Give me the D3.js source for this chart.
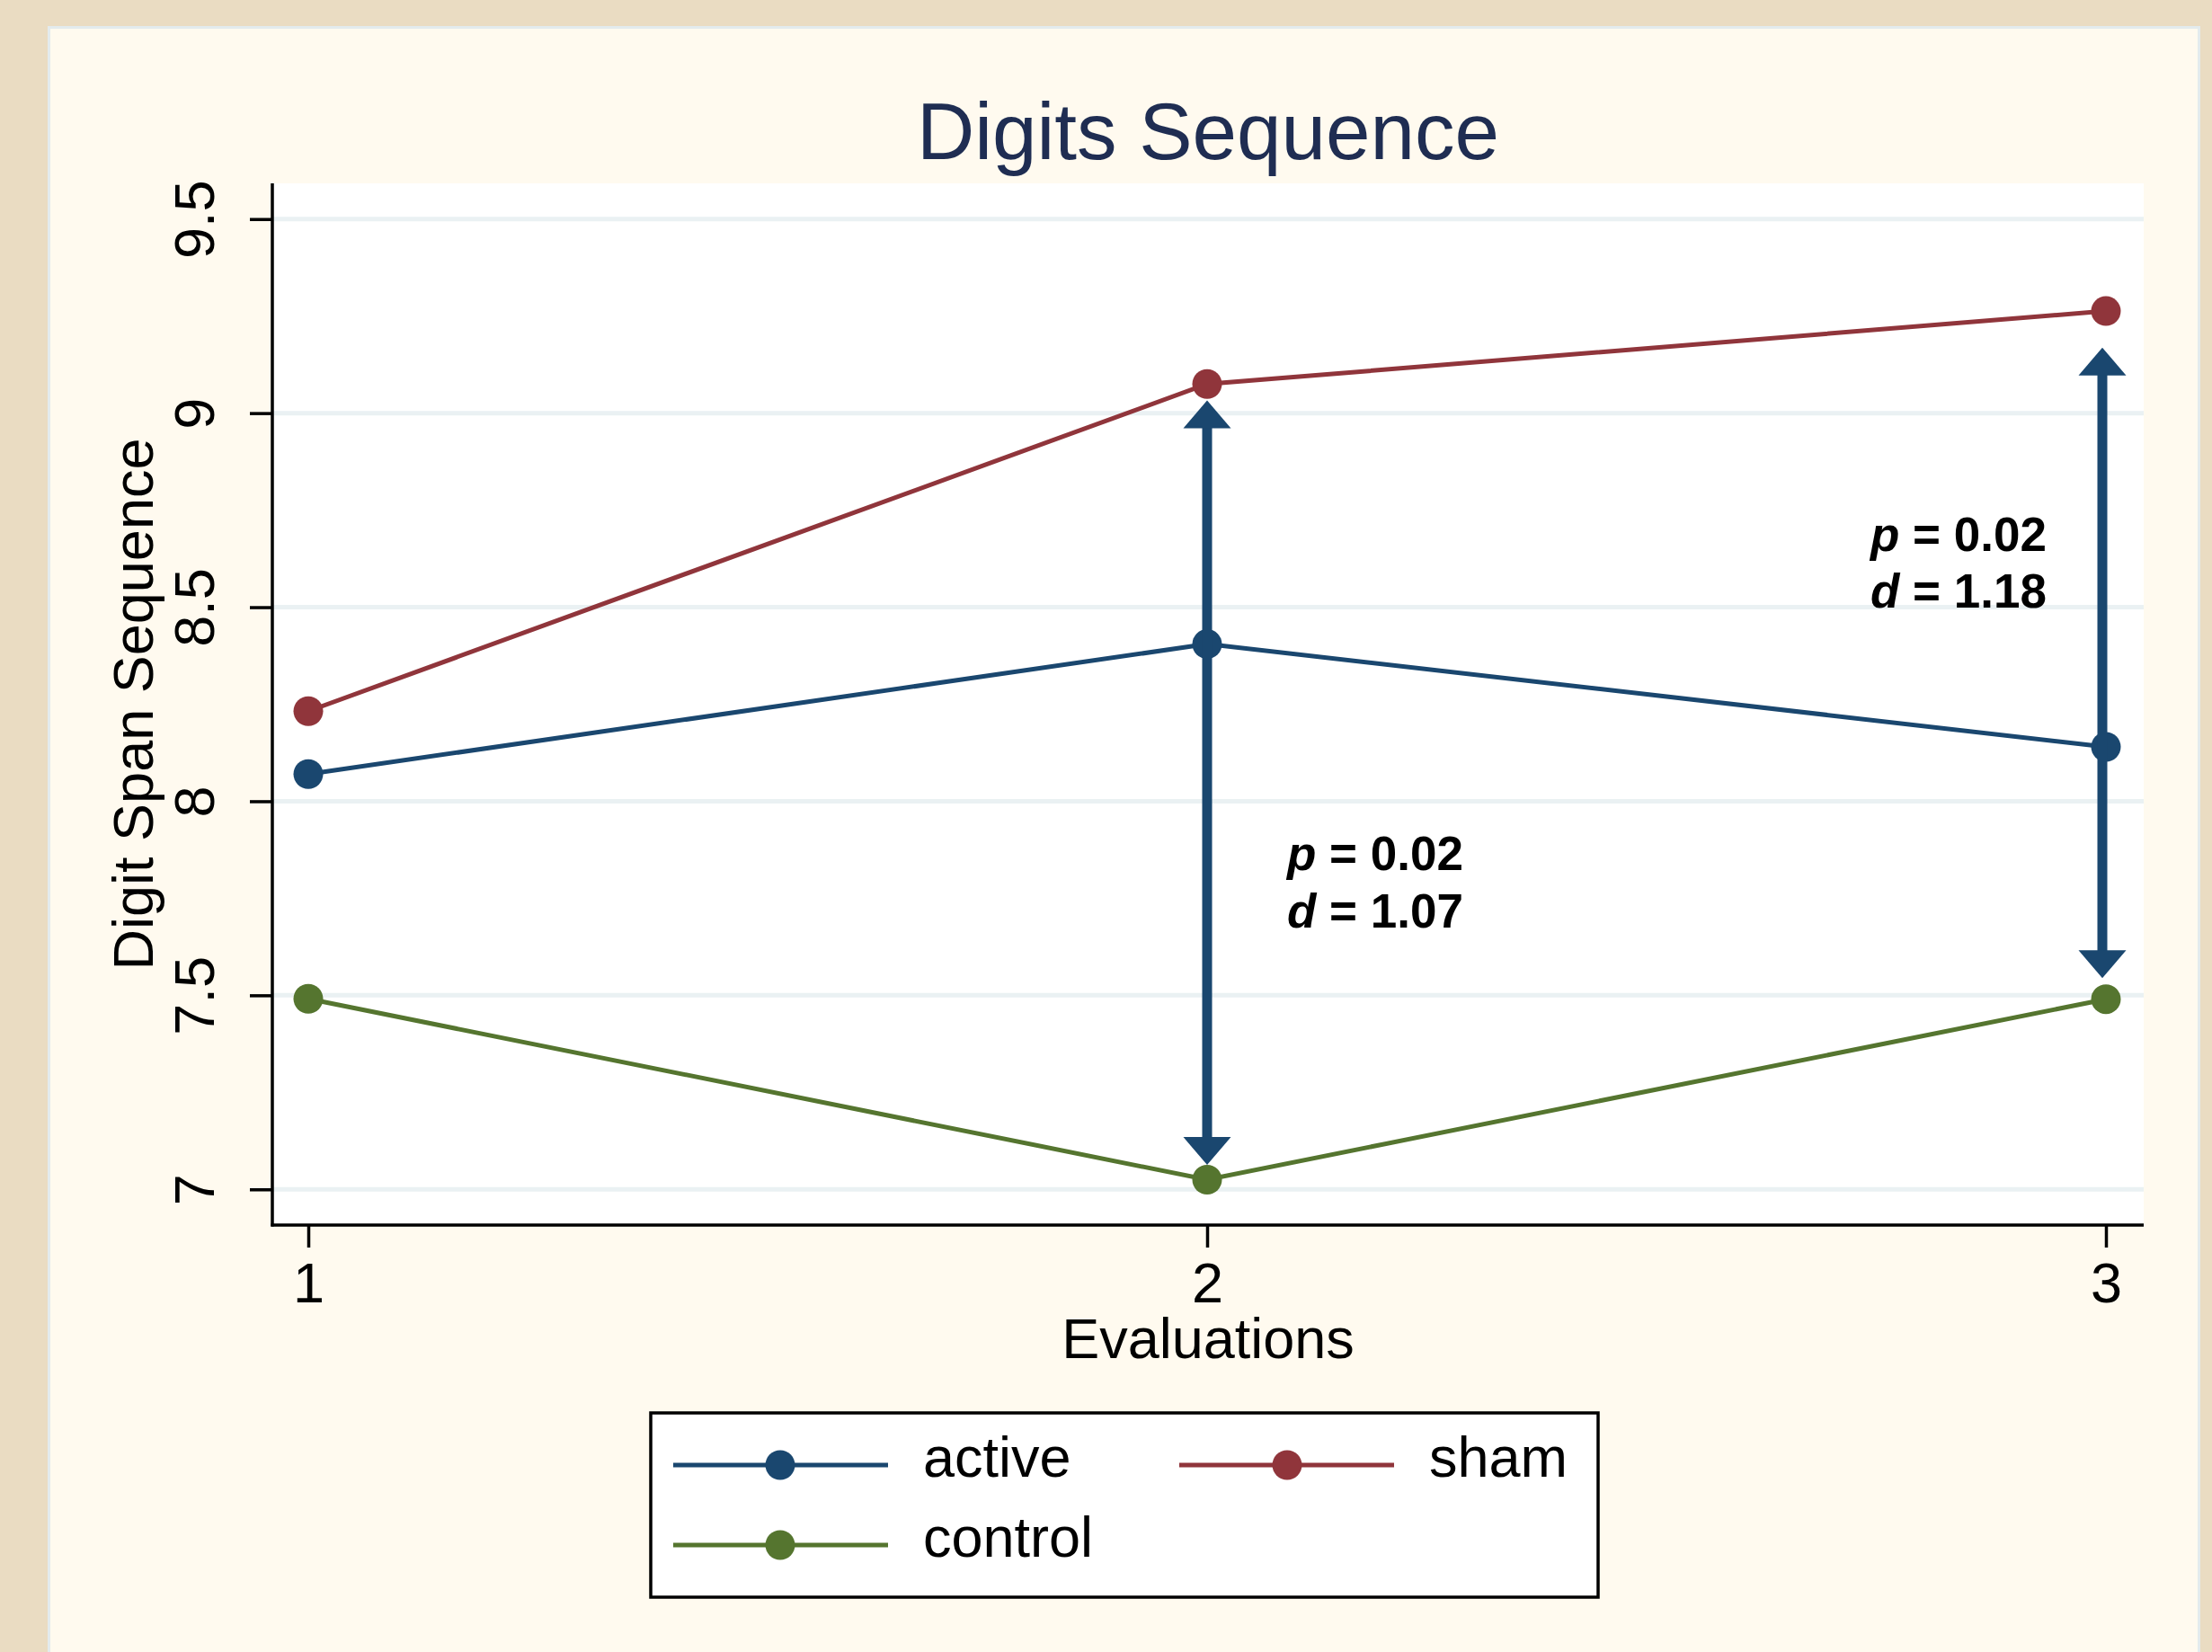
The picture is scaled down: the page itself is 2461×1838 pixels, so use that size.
<!DOCTYPE html>
<html>
<head>
<meta charset="utf-8">
<script src="https://cdn.jsdelivr.net/npm/d3@7"></script>
<style>
  html, body { margin: 0; padding: 0; background: #eadcc2; }
  svg { display: block; }
  text { font-family: "Liberation Sans", Arial, sans-serif; }
</style>
</head>
<body>
<script>
// ---- data ----
const evaluations = [1, 2, 3];
const seriesNames = ["active", "sham", "control"];
const activeValues = [8.070, 8.405, 8.140];
const shamValues = [8.232, 9.075, 9.263];
const controlValues = [7.491, 7.025, 7.490];
const yTickValues = [7, 7.5, 8, 8.5, 9, 9.5];
const xTickValues = [1, 2, 3];
const arrowX = [2, 2.996];
const arrowTop = [9.033, 9.169];
const arrowBottom = [7.063, 7.544];
const annotationX = [2.089, 2.738];
const annotationY = [7.822, 8.645];
const pLabels = ["0.02", "0.02"];
const dLabels = ["1.07", "1.18"];
const titleText = "Digits Sequence";
const xTitle = "Evaluations";
const yTitle = "Digit Span Sequence";

// ---- styling / layout ----
const W = 2461, H = 1838;
const colors = { active: "#1a476f", sham: "#90353b", control: "#55752f" };
const plot = { left: 303, right: 2385, top: 204, bottom: 1363 };

const svg = d3.select("body").append("svg").attr("width", W).attr("height", H);

// backgrounds
svg.append("rect").attr("x", 0).attr("y", 0).attr("width", W).attr("height", H).attr("fill", "#eadcc2");
svg.append("rect").attr("x", 54.5).attr("y", 30.5).attr("width", 2392).attr("height", H)
  .attr("fill", "#fffaef").attr("stroke", "#e3ebed").attr("stroke-width", 3);
svg.append("rect").attr("x", plot.left).attr("y", plot.top)
  .attr("width", plot.right - plot.left).attr("height", plot.bottom - plot.top).attr("fill", "#ffffff");

const x = d3.scaleLinear().domain([0.96, 3.042]).range([plot.left, plot.right]);
const y = d3.scaleLinear().domain([6.908, 9.592]).range([plot.bottom, plot.top]);

// gridlines
svg.append("g").selectAll("line").data(yTickValues).join("line")
  .attr("x1", plot.left).attr("x2", plot.right)
  .attr("y1", d => y(d)).attr("y2", d => y(d))
  .attr("stroke", "#eaf1f3").attr("stroke-width", 5);

// axes
const yAxis = d3.axisLeft(y).tickValues(yTickValues).tickSize(25).tickFormat(d => String(d));
const gy = svg.append("g").attr("transform", `translate(${plot.left},0)`).call(yAxis);
gy.select(".domain").attr("stroke", "#000").attr("stroke-width", 3.5)
  .attr("d", `M0,${plot.top}V${plot.bottom + 1.5}`);
gy.selectAll(".tick line").attr("stroke", "#000").attr("stroke-width", 3.5);
gy.selectAll(".tick text")
  .attr("x", null).attr("dy", null)
  .attr("transform", "translate(-65,0) rotate(-90)")
  .attr("text-anchor", "middle")
  .attr("fill", "#000")
  .style("font-size", "63px")
  .style("font-family", "'Liberation Sans', Arial, sans-serif");

const xAxis = d3.axisBottom(x).tickValues(xTickValues).tickSize(25).tickPadding(16).tickFormat(d => String(d));
const gx = svg.append("g").attr("transform", `translate(0,${plot.bottom})`).call(xAxis);
gx.select(".domain").attr("stroke", "#000").attr("stroke-width", 3.5)
  .attr("d", `M${plot.left - 1.5},0H${plot.right}`);
gx.selectAll(".tick line").attr("stroke", "#000").attr("stroke-width", 3.5);
gx.selectAll(".tick text")
  .attr("fill", "#000")
  .style("font-size", "63px")
  .style("font-family", "'Liberation Sans', Arial, sans-serif");

// title & axis titles
svg.append("text").attr("x", (plot.left + plot.right) / 2).attr("y", 177)
  .attr("text-anchor", "middle").attr("fill", "#1f2d52").style("font-size", "89px").text(titleText);
svg.append("text").attr("x", (plot.left + plot.right) / 2).attr("y", 1511)
  .attr("text-anchor", "middle").attr("fill", "#000").style("font-size", "63px").text(xTitle);
svg.append("text").attr("transform", `translate(170,${(plot.top + plot.bottom) / 2}) rotate(-90)`)
  .attr("text-anchor", "middle").attr("fill", "#000").style("font-size", "63px").text(yTitle);

// series
const seriesData = [
  { name: "active", values: activeValues },
  { name: "sham", values: shamValues },
  { name: "control", values: controlValues }
];
const line = d3.line().x((d, i) => x(evaluations[i])).y(d => y(d));
const gs = svg.append("g");
seriesData.forEach(s => {
  gs.append("path").attr("d", line(s.values)).attr("fill", "none")
    .attr("stroke", colors[s.name]).attr("stroke-width", 5);
});
seriesData.forEach(s => {
  gs.selectAll(null).data(s.values).join("circle")
    .attr("cx", (d, i) => x(evaluations[i])).attr("cy", d => y(d)).attr("r", 16.5)
    .attr("fill", colors[s.name]);
});

// arrows (double headed)
const arrowColor = "#1a476f";
const headLen = 31, headHalf = 26.5;
arrowX.forEach((ax, i) => {
  const cx = x(ax), yt = y(arrowTop[i]), yb = y(arrowBottom[i]);
  const g = svg.append("g");
  g.append("line").attr("x1", cx).attr("x2", cx).attr("y1", yt + headLen - 1).attr("y2", yb - headLen + 1)
    .attr("stroke", arrowColor).attr("stroke-width", 11);
  g.append("path").attr("d", `M${cx},${yt}L${cx - headHalf},${yt + headLen}L${cx + headHalf},${yt + headLen}Z`).attr("fill", arrowColor);
  g.append("path").attr("d", `M${cx},${yb}L${cx - headHalf},${yb - headLen}L${cx + headHalf},${yb - headLen}Z`).attr("fill", arrowColor);
});

// annotations
annotationX.forEach((ax, i) => {
  const t = svg.append("text").attr("x", x(ax)).attr("y", y(annotationY[i]))
    .attr("fill", "#000").style("font-size", "53px").style("font-weight", "bold");
  t.append("tspan").style("font-style", "italic").text("p");
  t.append("tspan").text(" = " + pLabels[i]);
  const t2 = svg.append("text").attr("x", x(ax)).attr("y", y(annotationY[i]) + 63.4)
    .attr("fill", "#000").style("font-size", "53px").style("font-weight", "bold");
  t2.append("tspan").style("font-style", "italic").text("d");
  t2.append("tspan").text(" = " + dLabels[i]);
});

// legend
const lg = svg.append("g");
lg.append("rect").attr("x", 724).attr("y", 1572).attr("width", 1054).attr("height", 205)
  .attr("fill", "#ffffff").attr("stroke", "#000").attr("stroke-width", 3.5);
const legendPos = [
  { name: "active", lx1: 749, lx2: 988, mx: 868, tx: 1027, ty: 1630 },
  { name: "sham", lx1: 1312, lx2: 1551, mx: 1432, tx: 1590, ty: 1630 },
  { name: "control", lx1: 749, lx2: 988, mx: 868, tx: 1027, ty: 1719 }
];
legendPos.forEach(p => {
  lg.append("line").attr("x1", p.lx1).attr("x2", p.lx2).attr("y1", p.ty).attr("y2", p.ty)
    .attr("stroke", colors[p.name]).attr("stroke-width", 5);
  lg.append("circle").attr("cx", p.mx).attr("cy", p.ty).attr("r", 16.5).attr("fill", colors[p.name]);
  lg.append("text").attr("x", p.tx).attr("y", p.ty + 13).attr("fill", "#000")
    .style("font-size", "63px").text(p.name);
});
</script>
</body>
</html>
